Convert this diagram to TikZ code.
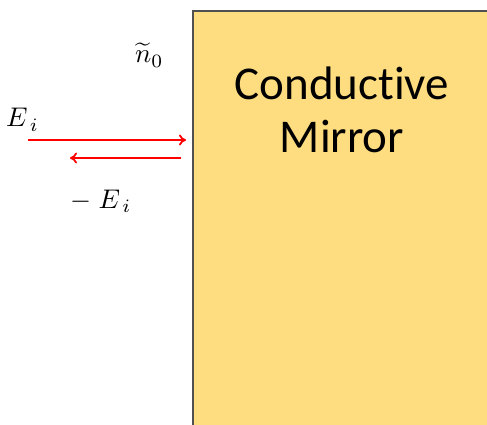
\documentclass[tikz,border=0pt]{standalone}
\usepackage{fontspec}
\newfontfamily\carlitofont[Ligatures=NoCommon]{Carlito}
\usetikzlibrary{arrows.meta}
\newcommand{\bigmath}[1]{\scalebox{2.7}{$#1$}}
\begin{document}
\begin{tikzpicture}[x=1pt,y=-1pt,
  ray/.style={red,line width=1.8pt,-{To[length=7pt,width=11pt,line width=1.8pt]}},
  lbl/.style={inner sep=0pt,anchor=base west},
  big/.style={inner sep=0pt,anchor=base,font=\carlitofont\fontsize{47}{52}\selectfont}]
\useasboundingbox (0,0) rectangle (487,425);
\fill[fill={rgb,255:red,254;green,221;blue,128}] (193,11) rectangle (490,430);
\draw[draw={rgb,255:red,80;green,80;blue,80},line width=1.2pt] (193,430) -- (193,11) -- (490,11);
\node[big] (cond) at (342,100) {Conductive};
\node[big] (mirr) at (342,152) {Mirror};
\coordinate (a1) at (28,140);
\coordinate (a2) at (186,140);
\coordinate (b1) at (181,158);
\coordinate (b2) at (70,158);
\draw[ray] (a1) -- (a2);
\draw[ray] (b1) -- (b2);
\node[lbl] (ei) at (6,127) {\bigmath{E_{\,i}}};
\node[lbl] (mei) at (70,208) {\bigmath{-\;E_{\,i}}};
\node[lbl] (n0) at (135,63) {\bigmath{\widetilde{n}_0}};
\end{tikzpicture}
\end{document}
